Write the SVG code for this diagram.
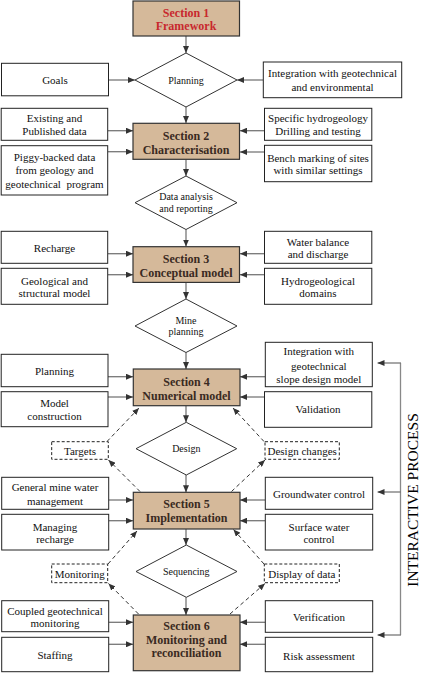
<svg xmlns="http://www.w3.org/2000/svg" width="421" height="673" viewBox="0 0 421 673">
<defs>
<style>
.box{fill:#fff;stroke:#222;stroke-width:1}
.dbox{fill:#fff;stroke:#222;stroke-width:1;stroke-dasharray:3,2}
.sec{fill:#d5b99a;stroke:#333;stroke-width:1.2}
.dia{fill:#fff;stroke:#333;stroke-width:1}
.t{font-family:"Liberation Serif","Times New Roman",serif;font-size:11px;fill:#111;text-anchor:middle}
.dt{font-family:"Liberation Serif","Times New Roman",serif;font-size:10px;fill:#111;text-anchor:middle}
.st{font-family:"Liberation Serif","Times New Roman",serif;font-size:12px;font-weight:bold;fill:#3a2a22;text-anchor:middle}
.st1{fill:#c8282d}
.c{stroke:#777;stroke-width:1.3;fill:none;marker-end:url(#ah)}
.d{stroke:#333;stroke-width:1;fill:none;stroke-dasharray:4,3;marker-end:url(#ah)}
.ip{stroke:#888;stroke-width:1.3;fill:none}
</style>
<marker id="ah" markerWidth="7" markerHeight="6" refX="7" refY="3" orient="auto" markerUnits="userSpaceOnUse">
<path d="M0,0 L7,3 L0,6 Z" fill="#333"/>
</marker>
</defs>

<g id="connectors">
<line class="c" x1="186" y1="36" x2="186" y2="53"/>
<line class="c" x1="109" y1="80" x2="135" y2="80"/>
<line class="c" x1="263" y1="80" x2="237" y2="80"/>
<line class="c" x1="186" y1="107" x2="186" y2="123"/>
<line class="c" x1="108" y1="130.7" x2="133" y2="130.7"/>
<line class="c" x1="108" y1="151.7" x2="133" y2="151.7"/>
<line class="c" x1="264.5" y1="130.7" x2="240" y2="130.7"/>
<line class="c" x1="264.5" y1="152" x2="240" y2="152"/>
<line class="c" x1="186" y1="159.5" x2="186" y2="176"/>
<line class="c" x1="186" y1="229.5" x2="186" y2="246.5"/>
<line class="c" x1="108" y1="253.7" x2="133" y2="253.7"/>
<line class="c" x1="108" y1="274.7" x2="133" y2="274.7"/>
<line class="c" x1="264.5" y1="253.7" x2="240" y2="253.7"/>
<line class="c" x1="264.5" y1="274.7" x2="240" y2="274.7"/>
<line class="c" x1="186" y1="282.5" x2="186" y2="299"/>
<line class="c" x1="186" y1="352.5" x2="186" y2="369"/>
<line class="c" x1="108" y1="376.7" x2="133" y2="376.7"/>
<line class="c" x1="108" y1="397" x2="133" y2="397"/>
<line class="c" x1="265" y1="376.7" x2="240" y2="376.7"/>
<line class="c" x1="264.5" y1="397" x2="240" y2="397"/>
<line class="c" x1="186" y1="405.7" x2="186" y2="422.3"/>
<line class="c" x1="186" y1="475" x2="186" y2="492.3"/>
<line class="c" x1="108.5" y1="500" x2="133" y2="500"/>
<line class="c" x1="108.5" y1="520.7" x2="133" y2="520.7"/>
<line class="c" x1="265.3" y1="500" x2="240" y2="500"/>
<line class="c" x1="265.3" y1="520.7" x2="240" y2="520.7"/>
<line class="c" x1="186" y1="529" x2="186" y2="545"/>
<line class="c" x1="186" y1="597.3" x2="186" y2="615"/>
<line class="c" x1="108.5" y1="622.3" x2="133" y2="622.3"/>
<line class="c" x1="108.5" y1="644.3" x2="133" y2="644.3"/>
<line class="c" x1="265.3" y1="622.3" x2="240" y2="622.3"/>
<line class="c" x1="265.3" y1="644.3" x2="240" y2="644.3"/>
<line class="d" x1="107" y1="441.5" x2="139" y2="408"/>
<line class="d" x1="264" y1="441.5" x2="233" y2="408"/>
<line class="d" x1="140" y1="491.5" x2="108.5" y2="460"/>
<line class="d" x1="231.5" y1="491.5" x2="265" y2="460"/>
<line class="d" x1="108" y1="564" x2="137" y2="531"/>
<line class="d" x1="264" y1="564" x2="233.5" y2="529.5"/>
<line class="d" x1="138.5" y1="614" x2="108.5" y2="583.5"/>
<line class="d" x1="230" y1="614" x2="265" y2="583.5"/>
<polyline class="ip" points="400.5,363 400.5,635"/>
<line class="c" x1="401" y1="363" x2="377.5" y2="363"/>
<line class="c" x1="401" y1="492" x2="377.5" y2="492"/>
<line class="c" x1="401" y1="635" x2="377.5" y2="635"/>
</g>

<g id="section1"><rect class="sec" x="133" y="1" width="106.5" height="35"/><text class="st st1" x="186" y="16.5">Section 1</text><text class="st st1" x="186" y="30">Framework</text></g>
<g id="planning-diamond"><polygon class="dia" points="186,53 237,80 186,107 135,80"/><text class="dt" x="186" y="83.5">Planning</text></g>
<g id="goals"><rect class="box" x="1.5" y="63.3" width="107" height="32.5"/><text class="t" x="55" y="84">Goals</text></g>
<g id="integration-env"><rect class="box" x="263.3" y="62" width="138.4" height="35.7"/><text class="t" x="332.5" y="77">Integration with geotechnical</text><text class="t" x="332.5" y="90.5">and environmental</text></g>

<g id="existing"><rect class="box" x="1.2" y="108.3" width="106.5" height="32"/><text class="t" x="54.5" y="122">Existing and</text><text class="t" x="54.5" y="135">Published data</text></g>
<g id="piggy"><rect class="box" x="1.2" y="145.7" width="106.5" height="49.3"/><text class="t" x="54.5" y="161">Piggy-backed data</text><text class="t" x="54.5" y="174">from geology and</text><text class="t" x="54.5" y="188" xml:space="preserve">geotechnical  program</text></g>
<g id="section2"><rect class="sec" x="133" y="123.3" width="106.5" height="36"/><text class="st" x="186" y="139.5">Section 2</text><text class="st" x="186" y="153.5">Characterisation</text></g>
<g id="specific"><rect class="box" x="264.5" y="108.3" width="107.3" height="32"/><text class="t" x="318" y="122">Specific hydrogeology</text><text class="t" x="318" y="135">Drilling and testing</text></g>
<g id="bench"><rect class="box" x="264.5" y="145.3" width="107.3" height="36.4"/><text class="t" x="318" y="161.5">Bench marking of sites</text><text class="t" x="318" y="174">with similar settings</text></g>
<g id="data-analysis-diamond"><polygon class="dia" points="186,176 237,202.7 186,229.5 135,202.7"/><text class="dt" x="186" y="200">Data analysis</text><text class="dt" x="186" y="211.7">and reporting</text></g>

<g id="recharge"><rect class="box" x="1.2" y="231.3" width="106.5" height="32"/><text class="t" x="54.5" y="252">Recharge</text></g>
<g id="geological"><rect class="box" x="1.2" y="268.3" width="106.5" height="36"/><text class="t" x="54.5" y="284.5">Geological and</text><text class="t" x="54.5" y="296.5">structural model</text></g>
<g id="section3"><rect class="sec" x="133" y="246.7" width="106.5" height="35.7"/><text class="st" x="186" y="262.5">Section 3</text><text class="st" x="186" y="276.5">Conceptual model</text></g>
<g id="water-balance"><rect class="box" x="264.5" y="231.3" width="107.3" height="32"/><text class="t" x="318" y="245.5">Water balance</text><text class="t" x="318" y="258">and discharge</text></g>
<g id="hydrogeological"><rect class="box" x="264.5" y="268.3" width="107.3" height="36"/><text class="t" x="318" y="284.5">Hydrogeological</text><text class="t" x="318" y="296.5">domains</text></g>
<g id="mine-planning-diamond"><polygon class="dia" points="186,299 237,326 186,352.5 135,326"/><text class="dt" x="186" y="324">Mine</text><text class="dt" x="186" y="335">planning</text></g>

<g id="planning-box"><rect class="box" x="1.2" y="354.3" width="106.8" height="32.4"/><text class="t" x="54.5" y="375">Planning</text></g>
<g id="model-construction"><rect class="box" x="1.2" y="391.7" width="106.8" height="35"/><text class="t" x="54.5" y="407">Model</text><text class="t" x="54.5" y="420">construction</text></g>
<g id="section4"><rect class="sec" x="133.3" y="369" width="106.7" height="36.7"/><text class="st" x="186.5" y="386">Section 4</text><text class="st" x="186.5" y="400">Numerical model</text></g>
<g id="integration-slope"><rect class="box" x="265.3" y="342.3" width="107" height="44.4"/><text class="t" x="318.8" y="355">Integration with</text><text class="t" x="318.8" y="369.5">geotechnical</text><text class="t" x="318.8" y="383">slope design model</text></g>
<g id="validation"><rect class="box" x="264.5" y="391.7" width="107.3" height="35.6"/><text class="t" x="318" y="413">Validation</text></g>
<g id="targets"><rect class="dbox" x="51.7" y="441.7" width="56.6" height="17.6"/><text class="t" x="80" y="455">Targets</text></g>
<g id="design-diamond"><polygon class="dia" points="186.3,422.3 236.7,448.7 186.3,475 136,448.7"/><text class="dt" x="186.3" y="452">Design</text></g>
<g id="design-changes"><rect class="dbox" x="265" y="441.7" width="74.3" height="17.6"/><text class="t" x="302.2" y="455">Design changes</text></g>

<g id="general-mine-water"><rect class="box" x="1.7" y="477.3" width="107" height="32"/><text class="t" x="55" y="490.7">General mine water</text><text class="t" x="55" y="504.5">management</text></g>
<g id="managing-recharge"><rect class="box" x="1.7" y="514.3" width="107" height="35.7"/><text class="t" x="55" y="530.5">Managing</text><text class="t" x="55" y="543">recharge</text></g>
<g id="section5"><rect class="sec" x="133.3" y="492.3" width="106.7" height="36.7"/><text class="st" x="186.5" y="507.5">Section 5</text><text class="st" x="186.5" y="522">Implementation</text></g>
<g id="groundwater-control"><rect class="box" x="265.3" y="477.3" width="107.4" height="32"/><text class="t" x="319" y="497.5">Groundwater control</text></g>
<g id="surface-water"><rect class="box" x="265.3" y="514.3" width="107.4" height="35.7"/><text class="t" x="319" y="530.5">Surface water</text><text class="t" x="319" y="543">control</text></g>
<g id="sequencing-diamond"><polygon class="dia" points="186.3,545 237,571.5 186.3,597.3 136,571.5"/><text class="dt" x="186.3" y="575">Sequencing</text></g>
<g id="monitoring-dashed"><rect class="dbox" x="51.7" y="564" width="56" height="18.7"/><text class="t" x="79.7" y="578">Monitoring</text></g>
<g id="display-data"><rect class="dbox" x="264.3" y="564" width="75" height="18.7"/><text class="t" x="301.8" y="578">Display of data</text></g>

<g id="coupled"><rect class="box" x="1.7" y="600.7" width="107" height="31"/><text class="t" x="55" y="614.5">Coupled geotechnical</text><text class="t" x="55" y="627">monitoring</text></g>
<g id="staffing"><rect class="box" x="1.7" y="637.3" width="107" height="34.4"/><text class="t" x="55" y="659">Staffing</text></g>
<g id="section6"><rect class="sec" x="133.3" y="615" width="106.7" height="55.7"/><text class="st" x="186.5" y="629.5">Section 6</text><text class="st" x="186.5" y="643.5">Monitoring and</text><text class="st" x="186.5" y="657">reconciliation</text></g>
<g id="verification"><rect class="box" x="265.3" y="600.7" width="107.4" height="31.6"/><text class="t" x="319" y="621">Verification</text></g>
<g id="risk"><rect class="box" x="265.3" y="637.3" width="107.4" height="34.4"/><text class="t" x="319" y="659.5">Risk assessment</text></g>

<g id="interactive-label"><text class="t" style="font-size:15.5px;fill:#000" transform="translate(418,500) rotate(-90)">INTERACTIVE PROCESS</text></g>
</svg>
